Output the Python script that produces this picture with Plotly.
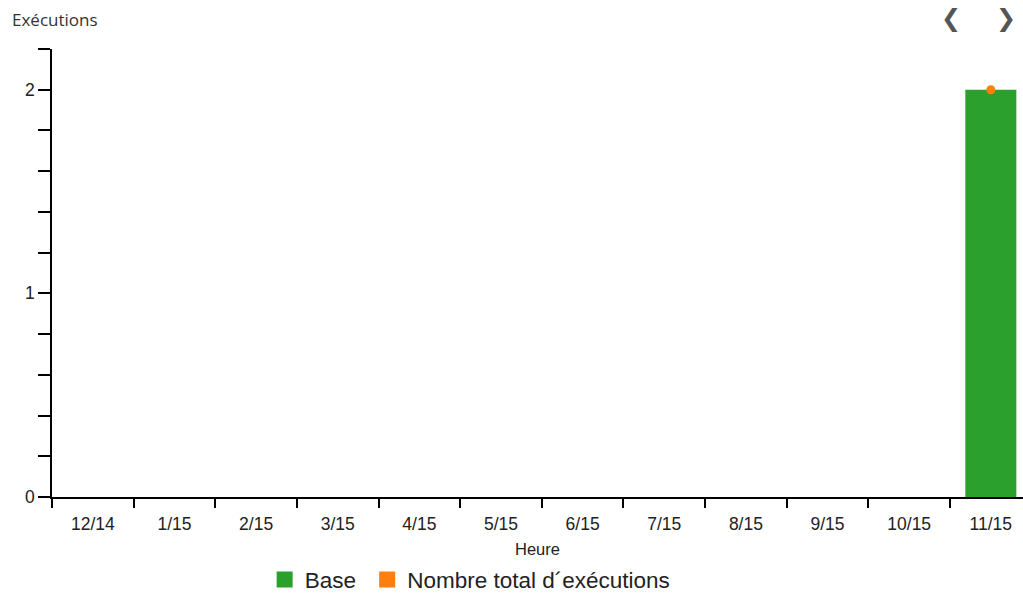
import plotly.graph_objects as go

months = ["12/14", "1/15", "2/15", "3/15", "4/15", "5/15", "6/15", "7/15", "8/15", "9/15", "10/15", "11/15"]
base = [None, None, None, None, None, None, None, None, None, None, None, 2]
total = [None, None, None, None, None, None, None, None, None, None, None, 2]
ytick_vals = [0, 0.2, 0.4, 0.6, 0.8, 1.0, 1.2, 1.4, 1.6, 1.8, 2.0, 2.2]
ytick_text = ["0", "", "", "", "", "1", "", "", "", "", "2", ""]

GREEN = "#2ca02c"
ORANGE = "#ff7f0e"
FONT = "Liberation Sans, Arial, sans-serif"

fig = go.Figure()
fig.add_trace(go.Bar(x=months, y=base, name="Base", marker=dict(color=GREEN, line=dict(width=0)),
                     width=0.625, showlegend=False))
fig.add_trace(go.Scatter(x=months, y=total, mode="markers", name="Nombre total d´exécutions",
                         marker=dict(color=ORANGE, size=9), showlegend=False))
# legend entries with square swatches
fig.add_trace(go.Scatter(x=[months[0]], y=[None], mode="markers", name="Base\u00a0",
                         marker=dict(color=GREEN, symbol="square", size=18)))
fig.add_trace(go.Scatter(x=[months[0]], y=[None], mode="markers", name="Nombre total d´exécutions",
                         marker=dict(color=ORANGE, symbol="square", size=18)))

fig.update_layout(
    width=1023, height=596,
    margin=dict(l=52, r=0, t=49, b=99, autoexpand=False),
    plot_bgcolor="white", paper_bgcolor="white",
    barmode="overlay",
    font=dict(family=FONT, size=18, color="#222"),
    showlegend=True,
    legend=dict(orientation="h", x=0.219, xanchor="left", y=-0.185, yanchor="middle",
                font=dict(size=22.5, color="#222"), itemwidth=30, traceorder="normal",
                bgcolor="rgba(0,0,0,0)"),
    xaxis=dict(type="category", range=[-0.5, 11.394], showline=True, linecolor="black", linewidth=1.5,
               ticks="outside", ticklen=9, tickcolor="black", tickwidth=1.5, tickson="boundaries",
               showgrid=False, zeroline=False, automargin=False, ticklabelstandoff=10,
               title=dict(text="Heure", font=dict(size=16.5), standoff=11),
               tickfont=dict(size=17.5)),
    yaxis=dict(range=[0, 2.2], tickvals=ytick_vals, ticktext=ytick_text, showline=True,
               linecolor="black", linewidth=1.5, ticks="outside", ticklen=12, tickcolor="black",
               tickwidth=1.5, showgrid=False, zeroline=False, tickfont=dict(size=17.5), automargin=False),
    annotations=[
        dict(text="Exécutions", xref="paper", yref="paper", x=-0.043, y=1.065, xanchor="left", yanchor="middle",
             showarrow=False, font=dict(family="Open Sans, sans-serif", size=17, color="#333")),
        dict(text="<b>❮</b>", xref="paper", yref="paper", x=0.926, y=1.069, xanchor="center", yanchor="middle",
             showarrow=False, font=dict(family="DejaVu Sans", size=24, color="#555")),
        dict(text="<b>❯</b>", xref="paper", yref="paper", x=0.983, y=1.069, xanchor="center", yanchor="middle",
             showarrow=False, font=dict(family="DejaVu Sans", size=24, color="#555")),
    ],
)

fig.write_html("out.html", config={"displayModeBar": False},
               post_script="document.body.style.margin='0px';")
